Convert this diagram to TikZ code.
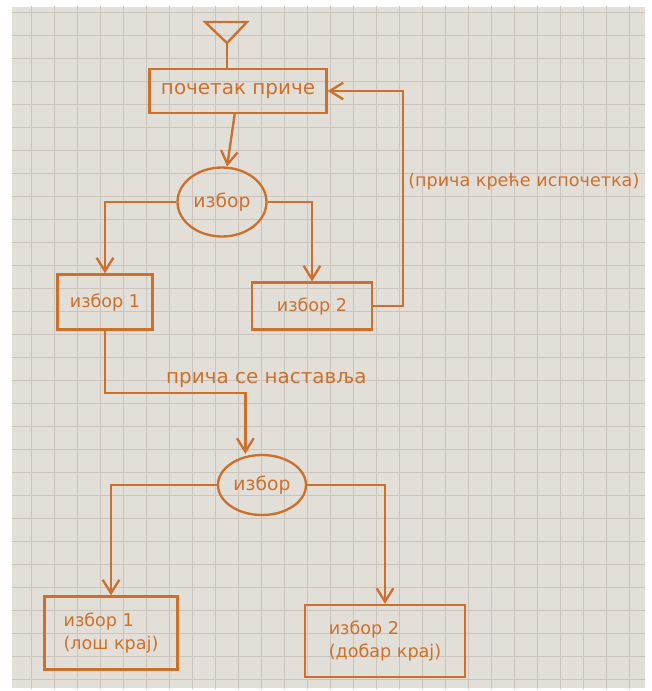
\documentclass[tikz,border=0pt]{standalone}
\usepackage{fontspec}
\setmainfont{DejaVu Sans}
\usetikzlibrary{positioning, shapes.geometric, arrows.meta}
\definecolor{ink}{RGB}{204,112,44}
\definecolor{paper}{RGB}{226,223,217}
\definecolor{gridline}{RGB}{202,196,188}

\begin{document}
\begin{tikzpicture}[on grid, auto, line width=2pt,
  >={Straight Barb[length=4mm,width=5mm]},
  box/.style={draw=ink, text=ink, rectangle, inner sep=2pt, align=left, font=\fontsize{15}{19}\selectfont},
  choice/.style={draw=ink, text=ink, ellipse, inner sep=1pt, font=\fontsize{16}{18}\selectfont},
  note/.style={text=ink, font=\fontsize{15}{17}\selectfont}]

   % paper
   \useasboundingbox (0,0) rectangle (19.53,-20.73);
   \fill[white] (0,0) rectangle (19.53,-20.73);
   \fill[paper] (0.36,-0.21) rectangle (19.35,-20.64);
   \begin{scope}
     \clip (0.36,-0.21) rectangle (19.35,-20.64);
     \draw[gridline, line width=0.7pt, step=0.69cm, shift={(0.24,-0.36)}] (-1.38,-21.39) grid (19.32,1.38);
   \end{scope}

   \node[box, font=\fontsize{17}{19}\selectfont, minimum width=5.31cm, minimum height=1.32cm] (start) at (7.14,-2.73) {почетак приче};
   \coordinate[above left=1.44cm and 0.33cm of start] (tip);
   \node[choice, minimum width=2.67cm, minimum height=2.07cm] (izbor) [below left=3.33cm and 0.48cm of start] {избор};
   \node[box, minimum width=2.85cm, minimum height=1.65cm] (opt1) [below left=3cm and 3.51cm of izbor] {избор 1};
   \node[box, minimum width=3.6cm, minimum height=1.41cm] (opt2) [below right=3.12cm and 2.7cm of izbor] {избор 2};
   \node[choice, minimum width=2.64cm, minimum height=1.8cm] (izbor2) [below right=5.49cm and 4.71cm of opt1] {избор};
   \node[box, minimum width=3.99cm, minimum height=2.19cm] (end1) [below left=4.44cm and 4.53cm of izbor2] {избор 1\\(лош крај)};
   \node[box, minimum width=4.8cm, minimum height=2.16cm] (end2) [below right=4.68cm and 3.69cm of izbor2] {избор 2\\(добар крај)};

   % funnel on top
   \draw[ink] (tip) -- ++(-0.66,0.63) -- ++(1.26,0) -- cycle;
   \draw[ink] (tip) -- (tip |- start.north);

   \draw[->, ink] (start) -- (izbor);
   \draw[->, ink] (izbor.west) -| (opt1);
   \draw[->, ink] (izbor.east) -| (opt2);
   \draw[->, ink] (opt2.east) -- ++(0.9,0) |- node[note, pos=0.29, right] {(прича креће испочетка)} (start.east);
   \draw[->, ink] (opt1.south) -- ++(0,-1.86) -| node[note, font=\fontsize{17}{19}\selectfont, pos=0.2, above right] {прича се наставља} ([xshift=-0.5cm]izbor2.north);
   \draw[->, ink] (izbor2.west) -| (end1);
   \draw[->, ink] (izbor2.east) -| (end2);

\end{tikzpicture}
\end{document}
